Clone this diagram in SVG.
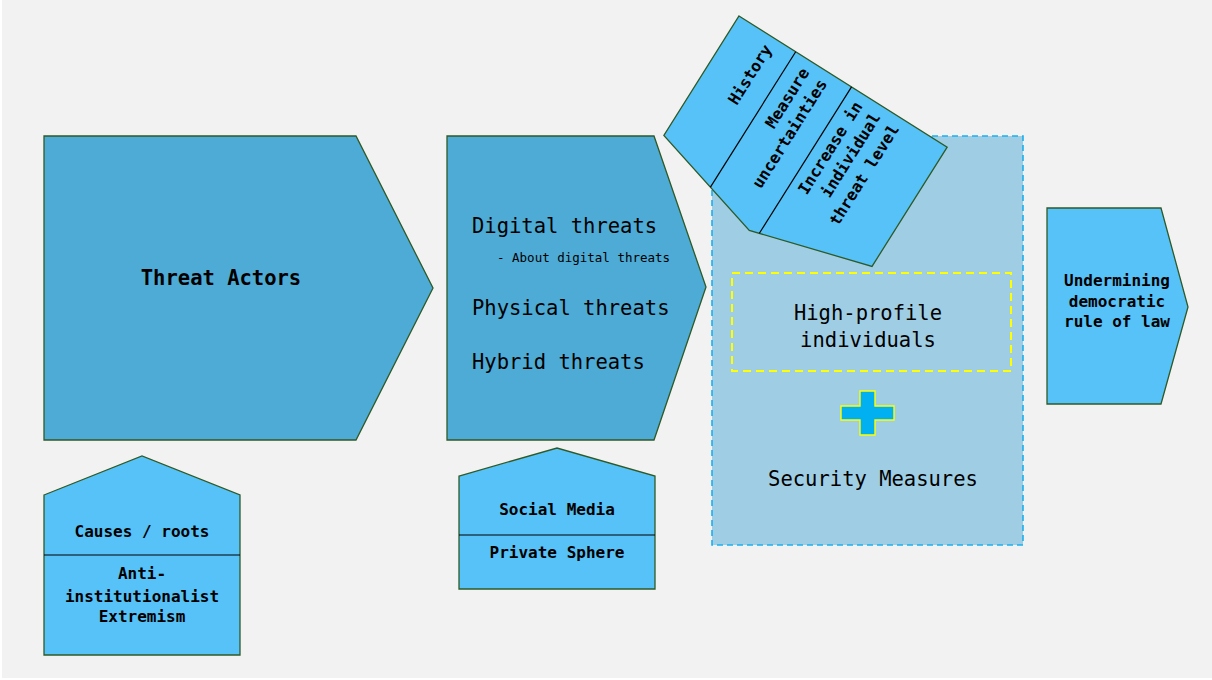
<svg xmlns="http://www.w3.org/2000/svg" width="1212" height="680" viewBox="0 0 1212 680">
<style>
.shape{stroke:#2f5a27;stroke-width:1.3}
.dark{fill:#4dabd6}
.light{fill:#56c2f8}
.div{stroke:#000;stroke-width:1.2}
text{font-family:"DejaVu Sans Mono","Liberation Mono",monospace;fill:#000}
.b{font-weight:bold;font-size:16px}
.big{font-size:20.5px}
.mid{text-anchor:middle}
</style>
<rect x="0" y="0" width="1212" height="680" fill="#ffffff"/>
<rect x="2" y="0" width="1210" height="678" fill="#f2f2f2"/>

<g id="security-container">
<rect x="712" y="136" width="311" height="409" fill="#9fcee4" stroke="#1ab0f0" stroke-width="1.6" stroke-dasharray="6,4"/>
</g>

<g id="threat-actors">
<polygon class="shape dark" points="44,136 356,136 433,288 356,440 44,440"/>
<text class="mid" x="221" y="285" font-weight="bold" font-size="20.5">Threat Actors</text>
</g>

<g id="threats">
<polygon class="shape dark" points="447,136 654,136 706,287 654,440 447,440"/>
<text class="big" x="472" y="233">Digital threats</text>
<text x="497" y="262" font-size="12.5">- About digital threats</text>
<text class="big" x="472" y="315">Physical threats</text>
<text class="big" x="472" y="369">Hybrid threats</text>
</g>

<g id="factors" transform="translate(739,16) rotate(32.2)">
<polygon class="shape light" points="0,0 246,0 246,141 123,176 0,141"/>
<line class="div" x1="67" y1="0" x2="67" y2="160"/>
<line class="div" x1="133" y1="0" x2="133" y2="173"/>
<g class="b" text-anchor="end" font-size="16.5">
<text transform="translate(46,10) rotate(-90)">History</text>
<text transform="translate(90,10) rotate(-90)">Measure</text>
<text transform="translate(111,10) rotate(-90)">uncertainties</text>
<text transform="translate(153,10) rotate(-90)">Increase in</text>
<text transform="translate(174,10) rotate(-90)">individual</text>
<text transform="translate(196,10) rotate(-90)">threat level</text>
</g>
</g>

<g id="high-profile">
<rect x="732" y="273" width="279" height="98" fill="none" stroke="#ffff00" stroke-width="2" stroke-dasharray="8,5"/>
<text class="big mid" x="868" y="320">High-profile</text>
<text class="big mid" x="868" y="347">individuals</text>
</g>

<g id="plus">
<polygon points="860,391 875,391 875,406 894,406 894,420 875,420 875,435 860,435 860,420 841,420 841,406 860,406" fill="#00b0f0" stroke="#ffff00" stroke-width="1.4"/>
</g>

<g id="security-measures">
<text class="big mid" x="873" y="486">Security Measures</text>
</g>

<g id="undermining">
<polygon class="shape light" points="1047,208 1161,208 1188,307 1161,404 1047,404"/>
<text class="b mid" x="1117" y="286">Undermining</text>
<text class="b mid" x="1117" y="307">democratic</text>
<text class="b mid" x="1117" y="327">rule of law</text>
</g>

<g id="causes">
<polygon class="shape light" points="44,495 142,456 240,495 240,655 44,655"/>
<line class="div" x1="44" y1="555" x2="240" y2="555"/>
<text class="b mid" x="142" y="537">Causes / roots</text>
<text class="b mid" x="142" y="579">Anti-</text>
<text class="b mid" x="142" y="602">institutionalist</text>
<text class="b mid" x="142" y="622">Extremism</text>
</g>

<g id="spheres">
<polygon class="shape light" points="459,476 557,448 655,476 655,589 459,589"/>
<line class="div" x1="459" y1="535" x2="655" y2="535"/>
<text class="b mid" x="557" y="515">Social Media</text>
<text class="b mid" x="557" y="558">Private Sphere</text>
</g>

<g id="connectors"></g>
</svg>
